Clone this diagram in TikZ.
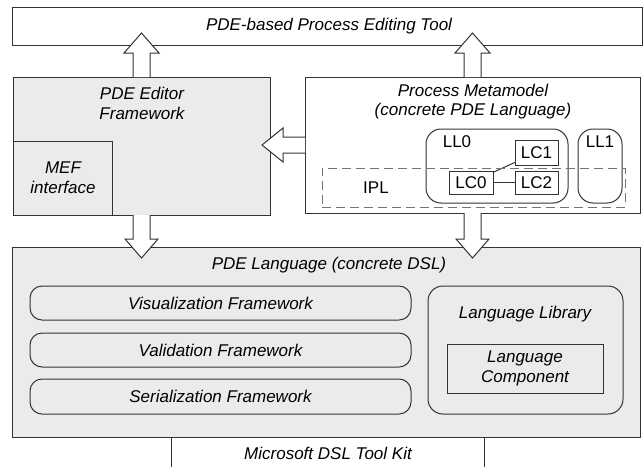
\documentclass[tikz,border=0pt]{standalone}
\usepackage{fontspec}
\setmainfont{Liberation Sans}
\usetikzlibrary{calc}
\definecolor{boxgray}{HTML}{EBEBEB}
\definecolor{linecol}{HTML}{333333}
\begin{document}
\begin{tikzpicture}[x=1pt,y=-1pt,
  every node/.style={inner sep=0pt, outer sep=0pt},
  lbl/.style={font=\itshape\fontsize{17}{19.5}\selectfont, align=center, text=black},
  plain/.style={font=\fontsize{17}{19.5}\selectfont, text=black},
  box/.style={draw=linecol, line width=1pt, rectangle},
  graybox/.style={box, fill=boxgray},
  rbox/.style={box, rounded corners=12pt},
  barrow/.style={draw=linecol, fill=white, line width=1pt, line join=miter},
  dashbox/.style={draw=black!55, line width=1pt, dash pattern=on 9pt off 5pt}
]
\useasboundingbox (0,0) rectangle (644,467);

% top tool
\node[box, minimum width=630pt, minimum height=38pt] (top) at (327,26) {};
\node[lbl] (toptxt) at (329,26) {PDE-based Process Editing Tool};

% PDE editor framework
\node[graybox, minimum width=257pt, minimum height=138pt] (editor) at (141.5,146) {};
\node[lbl] (edtxt) at (142,103.5) {PDE Editor\\Framework};
\node[graybox, minimum width=99pt, minimum height=74pt] (mef) at (62.5,178) {};
\node[lbl] (meftxt) at (63,177.5) {MEF\\interface};

% process metamodel
\node[box, fill=white, minimum width=335pt, minimum height=136pt] (meta) at (472.5,145) {};
\node[lbl] (metatxt) at (473,101.5) {Process Metamodel\\(concrete PDE Language)};
\node[box, rounded corners=15pt, minimum width=142pt, minimum height=74pt] (ll0) at (497,166) {};
\node[box, rounded corners=15pt, minimum width=44pt, minimum height=74pt] (ll1) at (600,166) {};
\node[plain] (ll0txt) at (457,142) {LL0};
\node[plain] (ll1txt) at (600,142) {LL1};
\node[box, fill=white, minimum width=43pt, minimum height=25pt] (lc1) at (536.5,152.5) {};
\node[plain] at (lc1) {LC1};
\node[box, fill=white, minimum width=43pt, minimum height=23pt] (lc2) at (536.5,182.5) {};
\node[plain] at (lc2) {LC2};
\node[box, fill=white, minimum width=44pt, minimum height=23pt] (lc0) at (471,182.5) {};
\node[plain] at (lc0) {LC0};
\draw[draw=linecol, line width=1pt] (lc0) -- (lc1);
\draw[draw=linecol, line width=1pt] (lc0) -- (lc2);
\node[dashbox, rectangle, minimum width=303pt, minimum height=39pt] (ipl) at (473.5,187.5) {};
\node[plain] (ipltxt) at (376,188) {IPL};

% PDE language
\node[graybox, minimum width=628pt, minimum height=190pt] (lang) at (326,342) {};
\node[lbl] (langtxt) at (329,265) {PDE Language (concrete DSL)};
\node[rbox, minimum width=381pt, minimum height=34pt] (vis) at (220.5,303) {};
\node[lbl] at (vis) {Visualization Framework};
\node[rbox, minimum width=381pt, minimum height=34pt] (val) at (220.5,350) {};
\node[lbl] at (val) {Validation Framework};
\node[rbox, minimum width=381pt, minimum height=35pt] (ser) at (220.5,396.5) {};
\node[lbl] at (ser) {Serialization Framework};
\node[box, rounded corners=15pt, minimum width=195pt, minimum height=128pt] (lib) at (525.5,350) {};
\node[lbl] (libtxt) at (525,314) {Language Library};
\node[box, minimum width=156pt, minimum height=49pt] (comp) at (525,368.5) {};
\node[lbl] at (comp) {Language\\Component};

% toolkit
\node[minimum width=313pt, minimum height=30pt] (kit) at (327.5,452) {};
\node[lbl] at (328,453) {Microsoft DSL Tool Kit};
\draw[draw=linecol, line width=1pt] (kit.north west) -- (kit.south west);
\draw[draw=linecol, line width=1pt] (kit.north east) -- (kit.south east);

% block arrows up (to top tool)
\foreach \src in {editor, meta}{
  \draw[barrow] let \p1=(\src.north), \p2=(top.south) in
    (\x1-8.5pt,\y1) -- (\x1-8.5pt,\y2-8pt) -- (\x1-17.5pt,\y2-8pt) -- (\x1,\y2+12pt)
    -- (\x1+17.5pt,\y2-8pt) -- (\x1+8.5pt,\y2-8pt) -- (\x1+8.5pt,\y1);
}
% block arrows down (to PDE language)
\foreach \src in {editor, meta}{
  \draw[barrow] let \p1=(\src.south), \p2=(lang.north) in
    (\x1-8.5pt,\y1) -- (\x1-8.5pt,\y2+8pt) -- (\x1-16.5pt,\y2+8pt) -- (\x1,\y2-11pt)
    -- (\x1+16.5pt,\y2+8pt) -- (\x1+8.5pt,\y2+8pt) -- (\x1+8.5pt,\y1);
}
% block arrow left (metamodel to editor)
\draw[barrow] let \p1=(meta.west), \p2=(editor.east) in
  (\x1,\y1+8pt) -- (\x2+13pt,\y1+8pt) -- (\x2+13pt,\y1+17pt) -- (\x2-8pt,\y1)
  -- (\x2+13pt,\y1-17pt) -- (\x2+13pt,\y1-8pt) -- (\x1,\y1-8pt);
\end{tikzpicture}
\end{document}
